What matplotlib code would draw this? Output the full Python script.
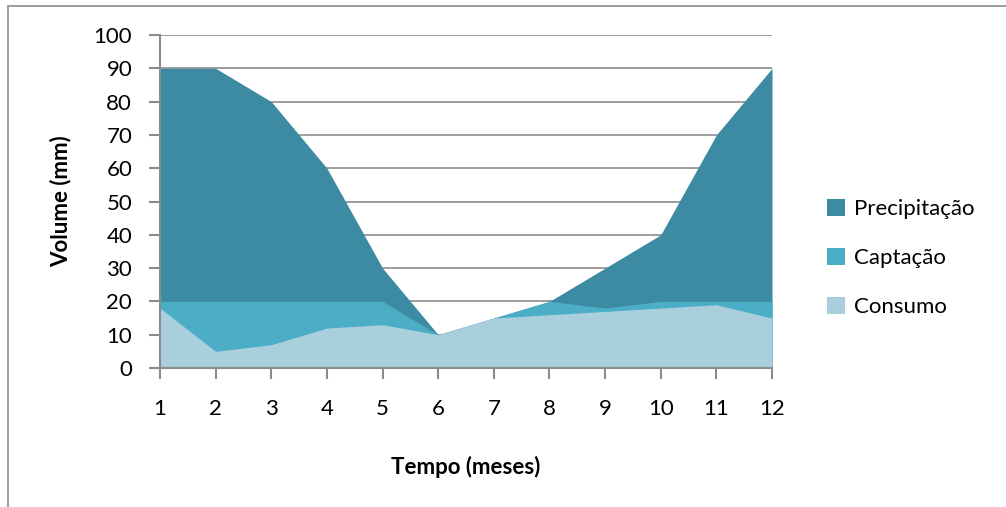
import numpy as np
import matplotlib
matplotlib.use("Agg")
from matplotlib import pyplot as plt
from matplotlib.patches import Rectangle

plt.rcParams['font.family'] = ['Lato', 'DejaVu Sans']

meses = [1, 2, 3, 4, 5, 6, 7, 8, 9, 10, 11, 12]
precipitacao = [90, 90, 80, 60, 30, 10, 15, 20, 30, 40, 70, 90]
captacao = [20, 20, 20, 20, 20, 10, 15, 20, 18, 20, 20, 20]
consumo = [18, 5, 7, 12, 13, 10, 15, 16, 17, 18, 19, 15]

cores = {"Precipitação": "#3d8ba3", "Captação": "#4badc6", "Consumo": "#a9cfdc"}

fig = plt.figure(figsize=(10.06, 5.07), dpi=100)
ax = fig.add_axes([160 / 1006, 1 - 368 / 507, 612 / 1006, 333 / 507])

# areas sobrepostas (não empilhadas), a maior por baixo
ax.fill_between(meses, 0, precipitacao, color=cores["Precipitação"], lw=0, label="Precipitação", zorder=2)
ax.fill_between(meses, 0, captacao, color=cores["Captação"], lw=0, label="Captação", zorder=3)
ax.fill_between(meses, 0, consumo, color=cores["Consumo"], lw=0, label="Consumo", zorder=4)

ax.set_xlim(1, 12)
ax.set_ylim(0, 100)
ax.set_xticks(meses)
ax.set_yticks(np.arange(0, 101, 10))
ax.yaxis.grid(True, color="#8c8c8c", lw=1.2, zorder=0)
ax.set_axisbelow(True)

for s in ["top", "right"]:
    ax.spines[s].set_visible(False)
for s in ["left", "bottom"]:
    ax.spines[s].set_color("#8c8c8c")
    ax.spines[s].set_linewidth(1.5)
    ax.spines[s].set_zorder(5)

ax.tick_params(axis="y", length=8, width=1.5, color="#8c8c8c", labelsize=16, pad=12)
ax.tick_params(axis="x", length=8, width=1.5, color="#8c8c8c", labelsize=16, pad=14)

ax.set_ylabel("Volume (mm)", fontsize=16, fontweight="bold", labelpad=16)
ax.set_xlabel("Tempo (meses)", fontsize=16, fontweight="bold", labelpad=27)

ax.legend(loc="center left", bbox_to_anchor=(1.09, 0.33), frameon=False, fontsize=16,
          borderpad=0, borderaxespad=0,
          handlelength=0.8, handleheight=0.8, handletextpad=0.4, labelspacing=1.3)

# moldura externa
fig.patches.append(Rectangle((8 / 1006, -0.1), 1.2, 1 - 6 / 507 + 0.1, transform=fig.transFigure,
                             fill=False, edgecolor="#8c8c8c", lw=1.2))

fig.savefig("out.png", dpi=100)
